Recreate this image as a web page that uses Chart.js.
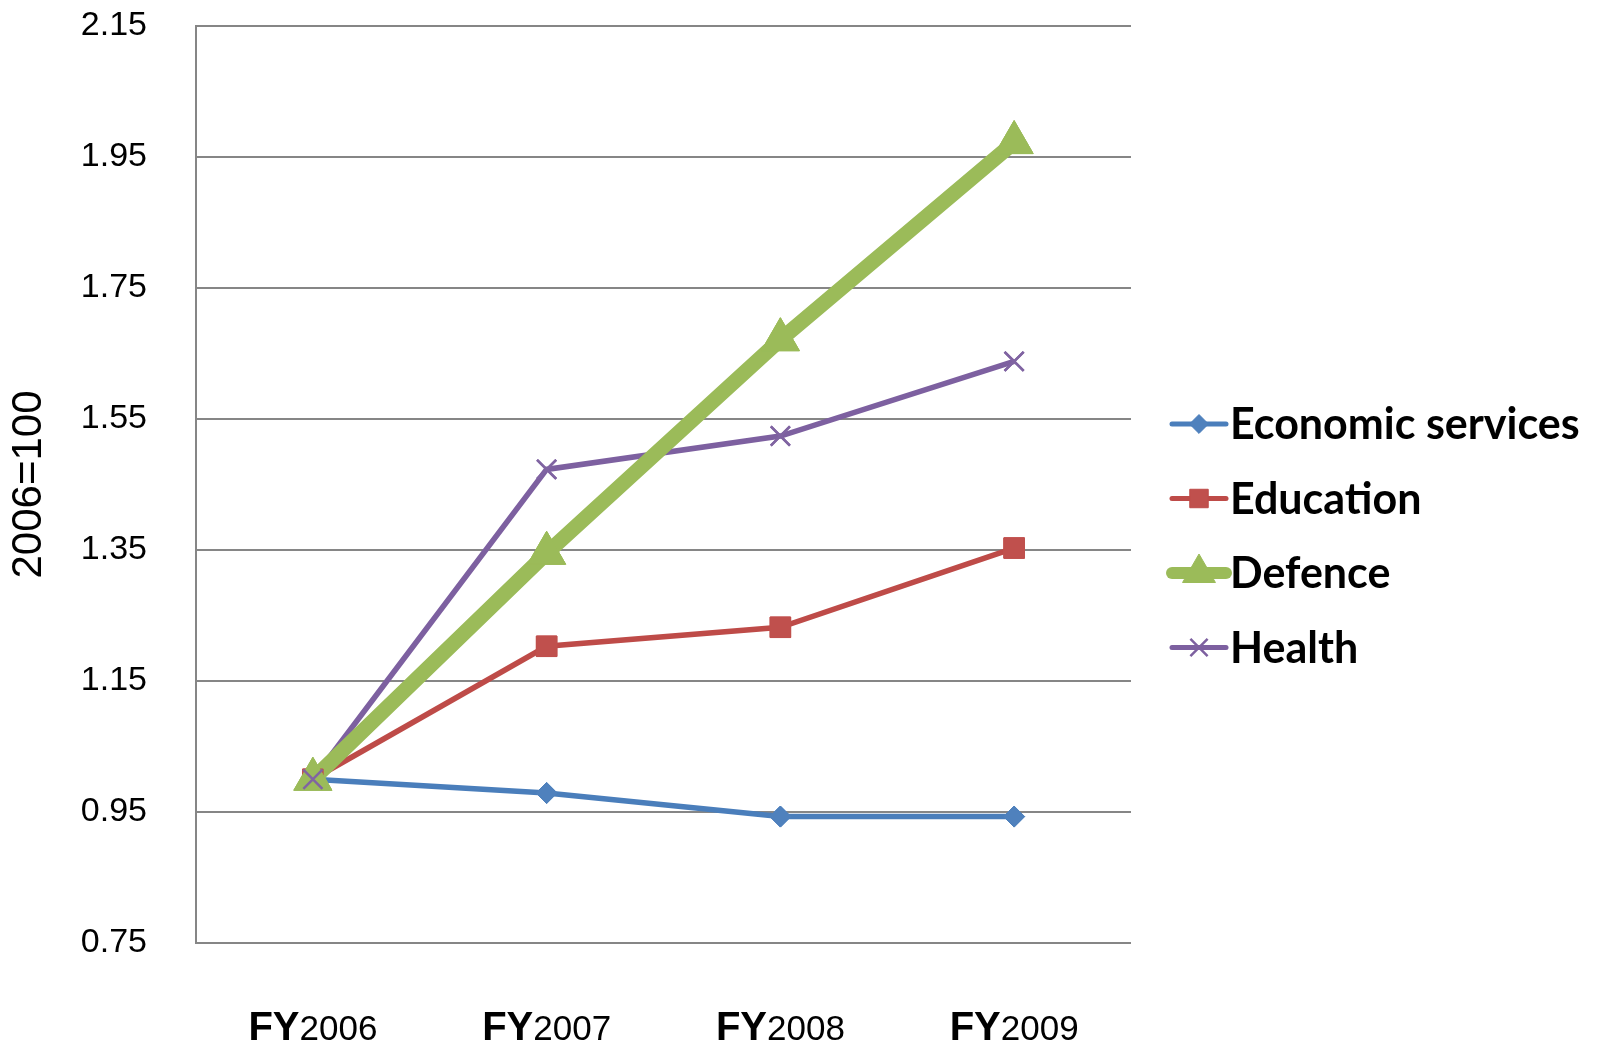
<!DOCTYPE html>
<html>
<head>
<meta charset="utf-8">
<title>2006=100</title>
<script src="https://cdn.jsdelivr.net/npm/chart.js@4.4.1/dist/chart.umd.min.js"></script>
<style>
  html, body { margin: 0; padding: 0; background: #fff; }
  #wrap { width: 1606px; height: 1047px; position: relative; }
</style>
</head>
<body>
<div id="wrap"><canvas id="chart"></canvas></div>
<script>
// datos (índice, 2006 = 1)
const prefijo = "FY";
const anios = ["2006", "2007", "2008", "2009"];
const economicos = [1.00, 0.979, 0.943, 0.943];
const educacion = [1.00, 1.203, 1.232, 1.353];
const defensa = [1.00, 1.345, 1.671, 1.972];
const salud = [1.00, 1.473, 1.524, 1.638];
const nombres = ["Economic services", "Education", "Defence", "Health"];
const ejeY = { min: 0.75, max: 2.15, paso: 0.2, titulo: "2006=100" };

const series = [
  { label: nombres[0], data: economicos, borderColor: "#4A7EBB", backgroundColor: "#4F81BD",
    borderWidth: 5.5, pointStyle: "rectRot", pointRadius: 10.5, pointBorderWidth: 1, order: 3, legendWidth: 5 },
  { label: nombres[1], data: educacion, borderColor: "#BE4B48", backgroundColor: "#C0504D",
    borderWidth: 5.5, pointStyle: "rect", pointRadius: 14.5, pointBorderWidth: 1, order: 2, legendWidth: 5 },
  { label: nombres[2], data: defensa, borderColor: "#9BBB59", backgroundColor: "#9BBB59",
    borderWidth: 15, pointStyle: "triangle", pointRadius: 22, pointBorderWidth: 1, order: 0, legendWidth: 12 },
  { label: nombres[3], data: salud, borderColor: "#7D60A0", backgroundColor: "#8064A2",
    borderWidth: 5.5, pointStyle: "crossRot", pointRadius: 13.5, pointBorderWidth: 2.5, order: 1, legendWidth: 5 }
];

// Excel dibuja primero todas las líneas y luego los marcadores
const marcadoresEncima = {
  id: "marcadoresEncima",
  afterDatasetsDraw(chart) {
    const ctx = chart.ctx;
    chart.data.datasets.forEach((ds, i) => {
      chart.getDatasetMeta(i).data.forEach(p => p.draw(ctx, chart.chartArea));
    });
  }
};

// etiquetas del eje X: "FY" en negrita + año más pequeño
const etiquetasX = {
  id: "etiquetasX",
  afterDraw(chart) {
    const ctx = chart.ctx;
    const x = chart.scales.x;
    ctx.save();
    ctx.fillStyle = "#000";
    ctx.textBaseline = "alphabetic";
    ctx.textAlign = "left";
    anios.forEach((anio, i) => {
      const cx = x.getPixelForValue(i);
      ctx.font = "bold 40px 'Liberation Sans', Arial, sans-serif";
      const w1 = ctx.measureText(prefijo).width;
      ctx.font = "35px 'Liberation Sans', Arial, sans-serif";
      const w2 = ctx.measureText(anio).width;
      const x0 = cx - (w1 + w2) / 2;
      ctx.font = "bold 40px 'Liberation Sans', Arial, sans-serif";
      ctx.fillText(prefijo, x0, 1040);
      ctx.font = "35px 'Liberation Sans', Arial, sans-serif";
      ctx.fillText(anio, x0 + w1, 1040);
    });
    ctx.restore();
  }
};

// leyenda a la derecha con línea + marcador
const leyenda = {
  id: "leyenda",
  afterDraw(chart) {
    const ctx = chart.ctx;
    const x1 = 1172, x2 = 1226, xt = 1230;
    const top = 424, gap = 74.5;
    ctx.save();
    chart.data.datasets.forEach((ds, i) => {
      const y = top + i * gap;
      ctx.strokeStyle = ds.borderColor;
      ctx.lineWidth = ds.legendWidth;
      ctx.lineCap = "round";
      ctx.beginPath();
      ctx.moveTo(x1, y);
      ctx.lineTo(x2, y);
      ctx.stroke();
      ctx.fillStyle = ds.backgroundColor;
      ctx.lineWidth = ds.pointBorderWidth;
      ctx.lineCap = "butt";
      Chart.helpers.drawPoint(ctx, {
        pointStyle: ds.pointStyle,
        radius: ds.pointStyle === "triangle" ? 19 : ds.pointRadius * 0.9,
        rotation: 0,
        borderWidth: ds.pointBorderWidth
      }, (x1 + x2) / 2, y);
      ctx.fillStyle = "#000";
      ctx.font = "bold 43px Lato, 'Open Sans', sans-serif";
      ctx.textBaseline = "alphabetic";
      ctx.fillText(ds.label, xt, y + 15);
    });
    ctx.restore();
  }
};

new Chart(document.getElementById("chart"), {
  type: "line",
  data: {
    labels: anios.map(a => prefijo + a),
    datasets: series.map(s => ({
      label: s.label,
      data: s.data,
      borderColor: s.borderColor,
      backgroundColor: s.backgroundColor,
      borderWidth: s.borderWidth,
      pointStyle: s.pointStyle,
      pointRadius: s.pointRadius,
      pointHoverRadius: s.pointRadius,
      pointBorderColor: s.backgroundColor,
      pointBackgroundColor: s.backgroundColor,
      pointBorderWidth: s.pointBorderWidth,
      order: s.order,
      legendWidth: s.legendWidth,
      tension: 0,
      fill: false,
      clip: false
    }))
  },
  options: {
    responsive: true,
    maintainAspectRatio: false,
    animation: false,
    layout: { padding: { top: 26, right: 475, left: 0, bottom: 0 } },
    plugins: {
      legend: { display: false },
      tooltip: { enabled: false }
    },
    scales: {
      x: {
        offset: true,
        grid: { display: false },
        border: { display: false },
        ticks: { display: false },
        afterFit: scale => { scale.height = 104; }
      },
      y: {
        min: ejeY.min,
        max: ejeY.max,
        afterFit: scale => {
          scale.width = 196;
          scale.paddingTop = 0;
          scale.paddingBottom = 0;
        },
        grid: { color: "#868686", lineWidth: 2, drawTicks: false },
        border: { display: true, color: "#868686", width: 2 },
        ticks: {
          stepSize: ejeY.paso,
          padding: 49,
          color: "#000",
          font: { family: "'Liberation Sans', Arial, sans-serif", size: 34 },
          callback: v => Number(v).toFixed(2)
        },
        title: {
          display: true,
          text: ejeY.titulo,
          color: "#000",
          font: { family: "'Liberation Sans', Arial, sans-serif", size: 42 }
        }
      }
    }
  },
  plugins: [marcadoresEncima, etiquetasX, leyenda]
});
</script>
</body>
</html>
